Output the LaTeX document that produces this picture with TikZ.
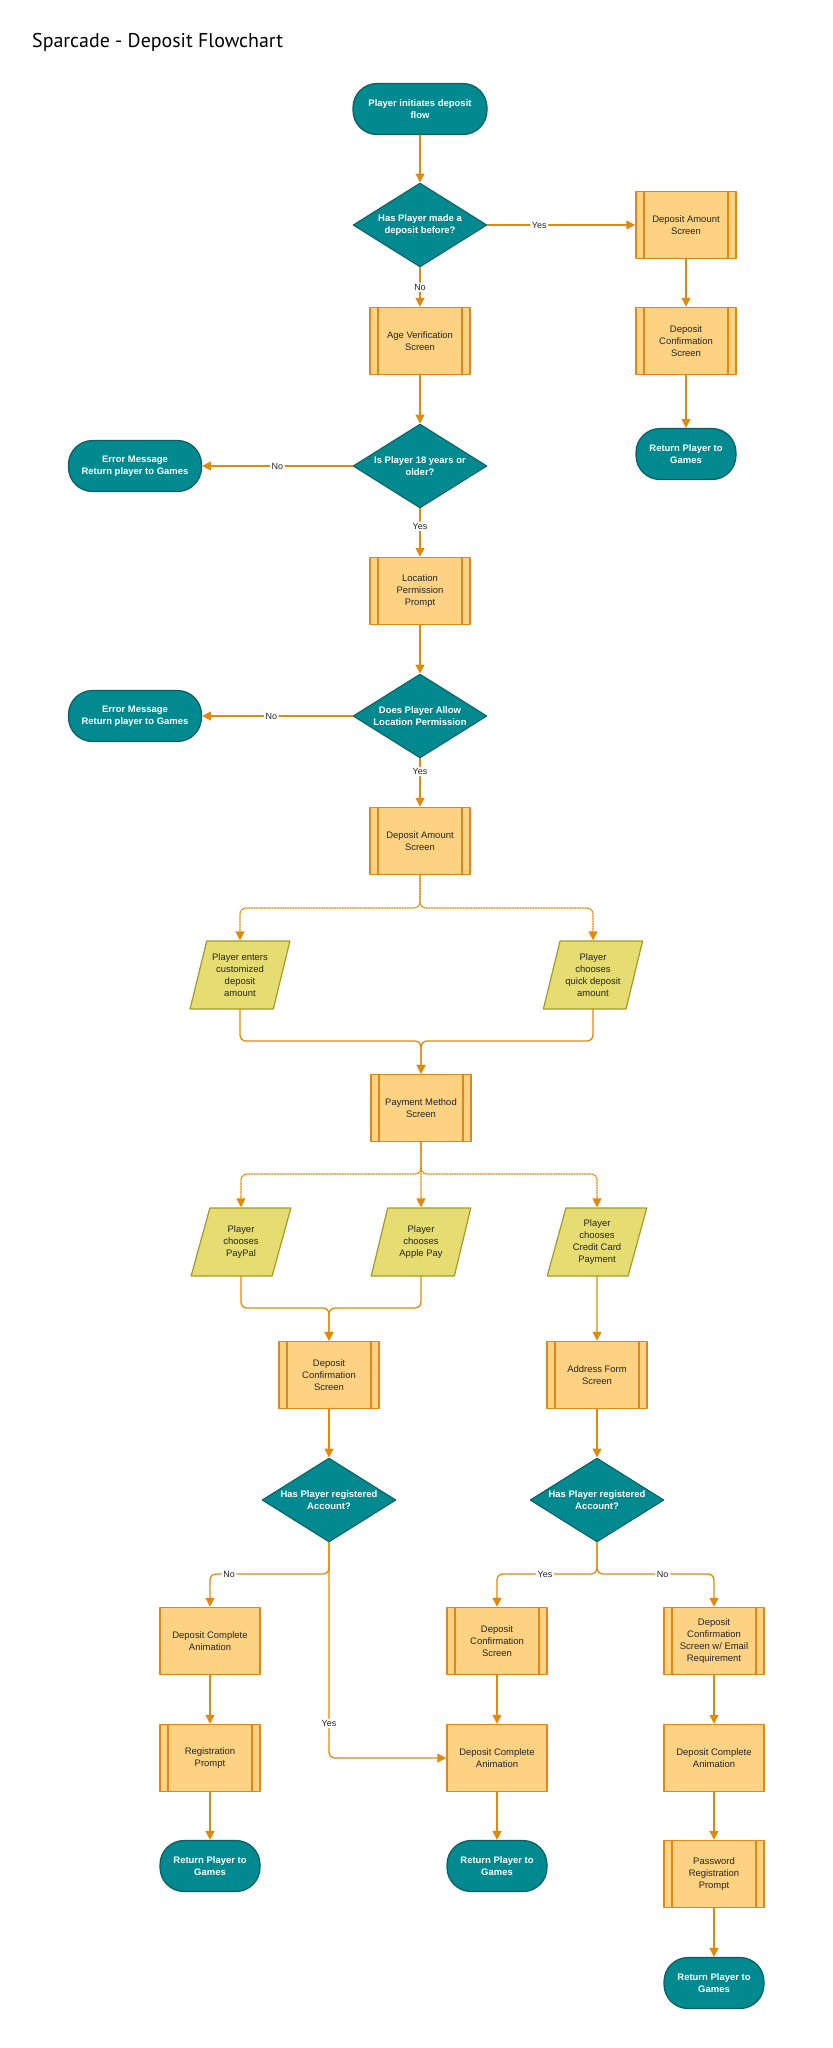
\documentclass[tikz,border=0pt]{standalone}
\usepackage{fontspec}
\setmainfont{Liberation Sans}
\newfontfamily\titlefont{PT Sans}
\usepackage{tikz}
\usetikzlibrary{arrows.meta,calc,positioning,shapes.geometric}
\definecolor{fcteal}{HTML}{00898F}
\definecolor{fctealdark}{HTML}{0A5F63}
\definecolor{fcbox}{HTML}{FDD283}
\definecolor{fcorange}{HTML}{E3861A}
\definecolor{fcinput}{HTML}{E5DC72}
\definecolor{fcinputdark}{HTML}{A39B2A}
\definecolor{fcline}{HTML}{E08A0C}
\tikzset{
  every picture/.append style={line cap=round,line join=round},
  fc text/.style={font=\fontsize{9.5}{12}\selectfont,align=center,text=black!85},
  fc terminal/.style={rectangle,rounded corners=24bp,fill=fcteal,draw=fctealdark,line width=1.2bp,
    text=white,font=\bfseries\fontsize{9.5}{11.5}\selectfont,align=center,
    minimum width=100bp,minimum height=51bp,inner sep=0pt},
  fc decision/.style={diamond,aspect=1.6,fill=fcteal,draw=fctealdark,line width=1bp,
    text=white,font=\bfseries\fontsize{9.5}{11.5}\selectfont,align=center,
    minimum width=134bp,minimum height=84bp,inner sep=0pt},
  fc process/.style={fc text,rectangle,fill=fcbox,draw=fcorange,line width=1.5bp,
    minimum width=100bp,minimum height=67bp,inner sep=0pt},
  fc screen/.style={fc process,path picture={
    \draw[fcorange,line width=1.2bp]
      ([xshift=8bp]path picture bounding box.north west) -- ([xshift=8bp]path picture bounding box.south west)
      ([xshift=-8bp]path picture bounding box.north east) -- ([xshift=-8bp]path picture bounding box.south east);}},
  fc input/.style={fc text,trapezium,trapezium left angle=72,trapezium right angle=108,
    trapezium stretches=true,fill=fcinput,draw=fcinputdark,line width=1.2bp,
    minimum width=100bp,minimum height=68bp,inner sep=0pt},
  fc flow/.style={draw=fcline,line width=1.3bp,rounded corners=6bp,-{Triangle[length=9bp,width=9bp]}},
  fc split/.style={fc flow,dash pattern=on 1.3bp off 1.3bp},
  fc label/.style={fill=white,inner sep=1.5bp,text=black!85,font=\fontsize{9}{10}\selectfont}
}

\begin{document}
\begin{tikzpicture}[x=1bp,y=-1bp]
  \useasboundingbox (0,0) rectangle (833,2048);
  \node[anchor=base west,inner sep=0pt,font=\titlefont\fontsize{20}{24}\selectfont] (title) at (32,47)
    {Sparcade - Deposit Flowchart};

  \node[fc terminal,minimum width=134bp] (start) at (420,109) {Player initiates deposit\\flow};
  \node[fc decision] (made) at (420,225) {Has Player made a\\deposit before?};
  \node[fc screen] (amountA) at (686,225) {Deposit Amount\\Screen};
  \node[fc screen] (confirmA) at (686,341) {Deposit\\Confirmation\\Screen};
  \node[fc terminal] (returnA) at (686,454) {Return Player to\\Games};
  \node[fc screen] (age) at (420,341) {Age Verification\\Screen};
  \node[fc decision] (adult) at (420,466) {Is Player 18 years or\\older?};
  \node[fc terminal,minimum width=133bp] (errorA) at (135,466) {Error Message\\Return player to Games};
  \node[fc screen] (location) at (420,591) {Location\\Permission\\Prompt};
  \node[fc decision] (allow) at (420,716) {Does Player Allow\\Location Permission};
  \node[fc terminal,minimum width=133bp] (errorB) at (135,716) {Error Message\\Return player to Games};
  \node[fc screen] (amountB) at (420,841) {Deposit Amount\\Screen};
  \node[fc input] (custom) at (240,975) {Player enters\\customized\\deposit\\amount};
  \node[fc input] (quick) at (593,975) {Player\\chooses\\quick deposit\\amount};
  \node[fc screen] (method) at (421,1108) {Payment Method\\Screen};
  \node[fc input] (paypal) at (241,1242) {Player\\chooses\\PayPal};
  \node[fc input] (apple) at (421,1242) {Player\\chooses\\Apple Pay};
  \node[fc input] (card) at (597,1242) {Player\\chooses\\Credit Card\\Payment};
  \node[fc screen] (confirmB) at (329,1375) {Deposit\\Confirmation\\Screen};
  \node[fc screen] (address) at (597,1375) {Address Form\\Screen};
  \node[fc decision] (regB) at (329,1500) {Has Player registered\\Account?};
  \node[fc decision] (regC) at (597,1500) {Has Player registered\\Account?};
  \node[fc process] (animB) at (210,1641) {Deposit Complete\\Animation};
  \node[fc screen] (prompt) at (210,1758) {Registration\\Prompt};
  \node[fc terminal] (returnB) at (210,1866) {Return Player to\\Games};
  \node[fc screen] (confirmC) at (497,1641) {Deposit\\Confirmation\\Screen};
  \node[fc process] (animC) at (497,1758) {Deposit Complete\\Animation};
  \node[fc terminal] (returnC) at (497,1866) {Return Player to\\Games};
  \node[fc screen] (confirmD) at (714,1641) {Deposit\\Confirmation\\Screen w/ Email\\Requirement};
  \node[fc process] (animD) at (714,1758) {Deposit Complete\\Animation};
  \node[fc screen] (password) at (714,1874) {Password\\Registration\\Prompt};
  \node[fc terminal] (returnD) at (714,1983) {Return Player to\\Games};

  \coordinate (splitA) at (420,908);
  \coordinate (mergeA) at (421,1041);
  \coordinate (splitB) at (421,1174);
  \coordinate (mergeB) at (329,1308);
  \coordinate (splitC) at (329,1574);
  \coordinate (splitD) at (597,1574);

  \draw[fc flow] (start) -- (made);
  \draw[fc flow] (made) -- node[fc label,pos=0.35] {Yes} (amountA);
  \draw[fc flow] (amountA) -- (confirmA);
  \draw[fc flow] (confirmA) -- (returnA);
  \draw[fc flow] (made) -- node[fc label] {No} (age);
  \draw[fc flow] (age) -- (adult);
  \draw[fc flow] (adult) -- node[fc label] {No} (errorA);
  \draw[fc flow] (adult) -- node[fc label,pos=0.37] {Yes} (location);
  \draw[fc flow] (location) -- (allow);
  \draw[fc flow] (allow) -- node[fc label,pos=0.54] {No} (errorB);
  \draw[fc flow] (allow) -- node[fc label,pos=0.27] {Yes} (amountB);
  \draw[fc split] (amountB.south) -- (splitA) -| (custom.north);
  \draw[fc split] (amountB.south) -- (splitA) -| (quick.north);
  \draw[fc flow] (custom.south) |- (mergeA) -- (method.north);
  \draw[fc flow] (quick.south) |- (mergeA) -- (method.north);
  \draw[fc split] (method.south) -- (splitB) -| (paypal.north);
  \draw[fc split] (method.south) -- (apple.north);
  \draw[fc split] (method.south) -- (splitB) -| (card.north);
  \draw[fc flow] (paypal.south) |- (mergeB) -- (confirmB.north);
  \draw[fc flow] (apple.south) |- (mergeB) -- (confirmB.north);
  \draw[fc flow] (card) -- (address);
  \draw[fc flow] (confirmB) -- (regB);
  \draw[fc flow] (address) -- (regC);
  \draw[fc flow] (regB.south) -- (splitC) -| node[fc label,pos=0.42] {No} (animB.north);
  \draw[fc flow] (regB.south) |- node[fc label,pos=0.42] {Yes} (animC.west);
  \draw[fc flow] (regC.south) -- (splitD) -| node[fc label,pos=0.26] {Yes} (confirmC.north);
  \draw[fc flow] (regC.south) -- (splitD) -| node[fc label,pos=0.28] {No} (confirmD.north);
  \draw[fc flow] (animB) -- (prompt);
  \draw[fc flow] (prompt) -- (returnB);
  \draw[fc flow] (confirmC) -- (animC);
  \draw[fc flow] (animC) -- (returnC);
  \draw[fc flow] (confirmD) -- (animD);
  \draw[fc flow] (animD) -- (password);
  \draw[fc flow] (password) -- (returnD);
\end{tikzpicture}
\end{document}
